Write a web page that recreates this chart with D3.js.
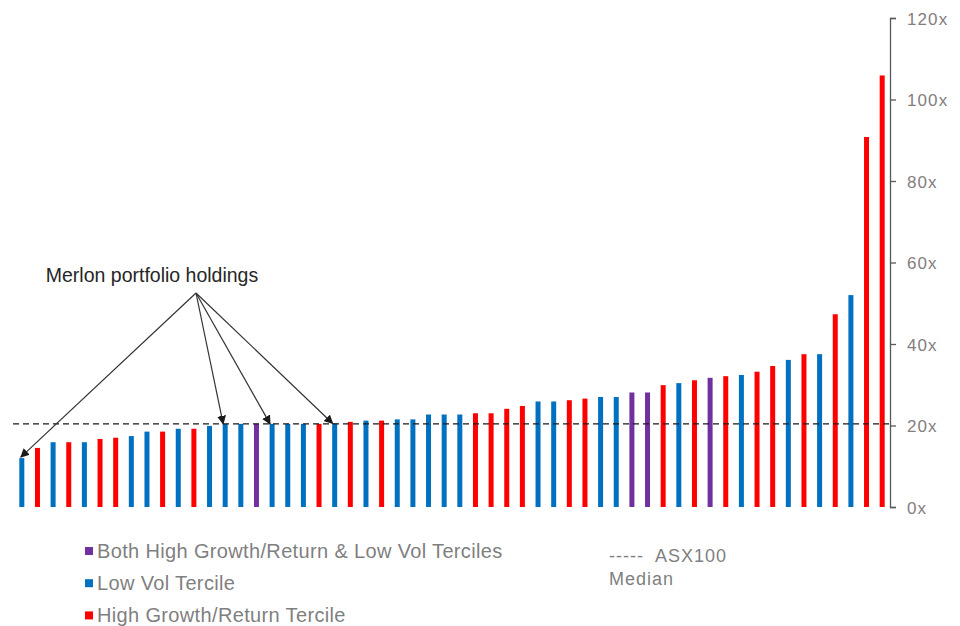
<!DOCTYPE html>
<html>
<head>
<meta charset="utf-8">
<script src="https://cdn.jsdelivr.net/npm/d3@7"></script>
<style>
  html, body { margin: 0; padding: 0; background: #fff; }
  svg { display: block; font-family: "Liberation Sans", Arial, sans-serif; }
</style>
</head>
<body>
<svg id="chart" width="960" height="626"></svg>
<script>
// P/E multiples of ASX100 stocks, sorted ascending
const peValues = [
  12.0, 14.5, 15.9, 15.9, 15.9, 16.7, 17.0, 17.4, 18.5, 18.5,
  19.2, 19.2, 19.9, 20.4, 20.4, 20.4, 20.4, 20.4, 20.4, 20.4,
  20.5, 20.9, 21.2, 21.2, 21.5, 21.5, 22.7, 22.7, 22.7, 23.0,
  23.0, 24.1, 24.8, 25.9, 25.9, 26.2, 26.6, 27.0, 27.0, 28.1,
  28.1, 29.9, 30.4, 31.1, 31.7, 32.1, 32.4, 33.2, 34.6, 36.1,
  37.5, 37.5, 47.3, 52.0, 90.8, 105.9
];
// Tercile membership: B = both, L = low vol, H = high growth/return
const groups = [
  "L","H","L","H","L","H","H","L","L","H",
  "L","H","L","L","L","B","L","L","L","H",
  "L","H","L","H","L","L","L","L","L","H",
  "H","H","H","L","L","H","H","L","L","B",
  "B","H","L","H","B","H","L","H","H","L",
  "H","L","H","L","H","H"
];
// Stocks held in the portfolio (indices into the arrays above)
const holdings = [0, 13, 16, 20];
const medianPE = 20.4;
const yTicks = [0, 20, 40, 60, 80, 100, 120];

const legendLabels = [
  "Both High Growth/Return & Low Vol Terciles",
  "Low Vol Tercile",
  "High Growth/Return Tercile"
];
const legendGroups = ["B", "L", "H"];

const colours = { B: "#7030A0", L: "#0070C0", H: "#FF0000" };

const svg = d3.select("#chart");

const x = d3.scaleBand()
  .domain(d3.range(peValues.length))
  .range([14, 890]);

const y = d3.scaleLinear()
  .domain([0, 120])
  .range([507, 18]);

const barW = 5;

// Bars
svg.append("g")
  .selectAll("rect")
  .data(peValues)
  .join("rect")
  .attr("x", (d, i) => x(i) + x.bandwidth() / 2 - barW / 2)
  .attr("y", d => y(d))
  .attr("width", barW)
  .attr("height", d => y(0) - y(d))
  .attr("fill", (d, i) => colours[groups[i]]);

// Median reference line
svg.append("line")
  .attr("x1", 13)
  .attr("x2", 889)
  .attr("y1", y(medianPE))
  .attr("y2", y(medianPE))
  .attr("stroke", "#1a1a1a")
  .attr("stroke-width", 1.3)
  .attr("stroke-dasharray", "6,4");

// Right-hand axis
const axis = svg.append("g")
  .attr("transform", "translate(890,0)")
  .call(d3.axisRight(y)
    .tickValues(yTicks)
    .tickFormat(d => d + "x")
    .tickSize(6)
    .tickSizeOuter(6)
    .tickPadding(11));
axis.select(".domain").attr("stroke", "#595959").attr("stroke-width", 1.3);
axis.selectAll(".tick line").attr("stroke", "#595959").attr("stroke-width", 1.3);
axis.selectAll(".tick text")
  .attr("fill", "#857d80")
  .attr("dy", "0.36em")
  .style("font-size", "17px")
  .style("letter-spacing", "1.1px")
  .style("font-family", "'Liberation Sans', Arial, sans-serif");

// Annotation arrows
const defs = svg.append("defs");
defs.append("marker")
  .attr("id", "arrowHead")
  .attr("viewBox", "0 0 10 10")
  .attr("refX", 9)
  .attr("refY", 5)
  .attr("markerWidth", 9)
  .attr("markerHeight", 9)
  .attr("markerUnits", "userSpaceOnUse")
  .attr("orient", "auto")
  .append("path")
  .attr("d", "M0,0 L10,5 L0,10 Z")
  .attr("fill", "#1a1a1a");

const origin = { x: 196, y: 293 };
svg.append("g")
  .selectAll("line")
  .data(holdings)
  .join("line")
  .attr("x1", origin.x)
  .attr("y1", origin.y)
  .attr("x2", i => x(i) + x.bandwidth() / 2 + (i === 0 ? -1 : -2))
  .attr("y2", i => (i === 0 ? y(peValues[i]) - 1 : y(peValues[i])))
  .attr("stroke", "#333")
  .attr("stroke-width", 1.2)
  .attr("marker-end", "url(#arrowHead)");

svg.append("text")
  .attr("x", 152)
  .attr("y", 281.5)
  .attr("text-anchor", "middle")
  .attr("fill", "#262626")
  .style("font-size", "19.5px")
  .text("Merlon portfolio holdings");

// Legend
const legend = svg.append("g");
const rows = legend.selectAll("g")
  .data(legendLabels)
  .join("g")
  .attr("transform", (d, i) => `translate(85,${557.5 + i * 32.2})`);
rows.append("rect")
  .attr("x", 0)
  .attr("y", -10.5)
  .attr("width", 8)
  .attr("height", 8)
  .attr("fill", (d, i) => colours[legendGroups[i]]);
rows.append("text")
  .attr("x", 12)
  .attr("y", 0)
  .attr("fill", "#7f7f7f")
  .style("font-size", "20px")
  .style("letter-spacing", "0.35px")
  .text(d => d);

const medianKey = legend.append("text")
  .attr("y", 562)
  .attr("fill", "#7f7f7f")
  .style("font-size", "18px")
  .style("letter-spacing", "1px");
medianKey.append("tspan").attr("x", 609).text("-----");
medianKey.append("tspan").attr("x", 655).text("ASX100");
legend.append("text")
  .attr("x", 609)
  .attr("y", 584.5)
  .attr("fill", "#7f7f7f")
  .style("font-size", "18px")
  .style("letter-spacing", "1px")
  .text("Median");
</script>
</body>
</html>
